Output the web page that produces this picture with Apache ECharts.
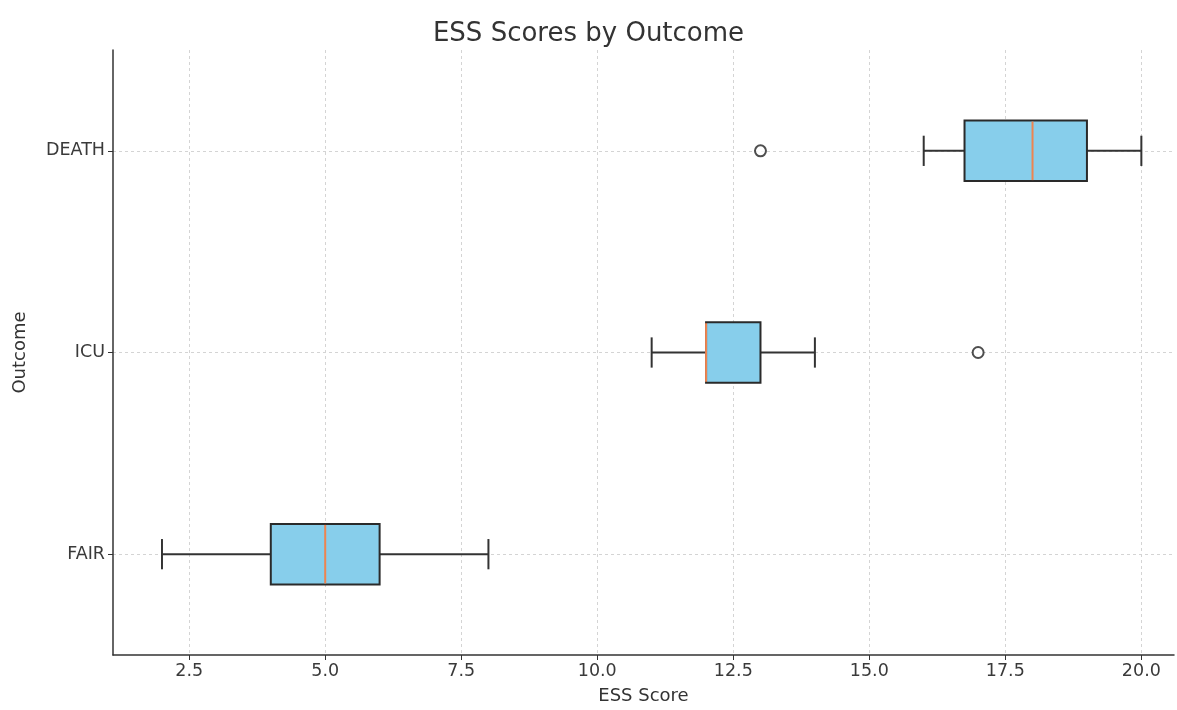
<!DOCTYPE html>
<html>
<head>
<meta charset="utf-8">
<script src="https://cdn.jsdelivr.net/npm/echarts@6/dist/echarts.min.js"></script>
<style>
html,body{margin:0;padding:0;background:#fff;}
#chart{width:1177px;height:710px;}
</style>
</head>
<body>
<div id="chart"></div>
<script>
// Data
var categories = ['FAIR', 'ICU', 'DEATH'];
// [whiskerLow, Q1, median, Q3, whiskerHigh]
var boxFAIR = [2, 4, 5, 6, 8];
var boxICU = [11, 12, 12, 13, 14];
var boxDEATH = [16, 16.75, 18, 19, 20];
var outliers = [[17, 'ICU'], [13, 'DEATH']];
var xTicks = [2.5, 5.0, 7.5, 10.0, 12.5, 15.0, 17.5, 20.0];

var boxes = [boxFAIR, boxICU, boxDEATH];
var boxData = boxes.map(function (b, i) { return [i].concat(b); });

var FONT = 'DejaVu Sans';
var chart = echarts.init(document.getElementById('chart'));

function renderBox(params, api) {
  var ci = api.value(0);
  var lo = api.coord([api.value(1), ci]);
  var q1 = api.coord([api.value(2), ci]);
  var md = api.coord([api.value(3), ci]);
  var q3 = api.coord([api.value(4), ci]);
  var hi = api.coord([api.value(5), ci]);
  var band = api.size([0, 1])[1];
  var bh = band * 0.3;
  var ch = band * 0.15;
  var y = lo[1];
  var lineStyle = { stroke: '#333333', lineWidth: 2 };
  return {
    type: 'group',
    children: [
      { type: 'line', shape: { x1: lo[0], y1: y, x2: q1[0], y2: y }, style: lineStyle },
      { type: 'line', shape: { x1: q3[0], y1: y, x2: hi[0], y2: y }, style: lineStyle },
      { type: 'line', shape: { x1: lo[0], y1: y - ch / 2, x2: lo[0], y2: y + ch / 2 }, style: lineStyle },
      { type: 'line', shape: { x1: hi[0], y1: y - ch / 2, x2: hi[0], y2: y + ch / 2 }, style: lineStyle },
      { type: 'rect', shape: { x: q1[0], y: y - bh / 2, width: q3[0] - q1[0], height: bh },
        style: { fill: '#87ceeb', stroke: '#2a2a2a', lineWidth: 2 } },
      { type: 'line', shape: { x1: md[0], y1: y - bh / 2 + 1, x2: md[0], y2: y + bh / 2 - 1 },
        style: { stroke: '#ee8450', lineWidth: 2 } }
    ]
  };
}

chart.setOption({
  animation: false,
  backgroundColor: '#ffffff',
  title: {
    text: 'ESS Scores by Outcome',
    left: 'center',
    top: 16,
    textStyle: { fontFamily: FONT, fontSize: 26, fontWeight: 'normal', color: '#333333' }
  },
  grid: { left: 113, right: 3, top: 50, bottom: 50, containLabel: false },
  xAxis: {
    type: 'value',
    min: 1.1,
    max: 20.6,
    name: 'ESS Score',
    nameLocation: 'middle',
    nameGap: 32,
    nameTextStyle: { fontFamily: FONT, fontSize: 18, color: '#333333' },
    axisLine: { show: true, lineStyle: { color: '#333333', width: 1.5 } },
    axisTick: { show: true, length: 5, customValues: xTicks, lineStyle: { color: '#333333' } },
    axisLabel: {
      customValues: xTicks,
      fontFamily: FONT, fontSize: 17.5, color: '#3a3a3a', margin: 7,
      formatter: function (v) { return v.toFixed(1); }
    },
    splitLine: { show: true, lineStyle: { color: '#d4d4d4', type: [3, 3], width: 1 } }
  },
  yAxis: {
    type: 'category',
    data: categories,
    name: 'Outcome',
    nameLocation: 'middle',
    nameGap: 84,
    nameTextStyle: { fontFamily: FONT, fontSize: 18, color: '#333333' },
    axisLine: { show: true, lineStyle: { color: '#333333', width: 1.5 } },
    axisTick: { show: true, length: 5, alignWithLabel: true, lineStyle: { color: '#333333' } },
    axisLabel: { fontFamily: FONT, fontSize: 17.5, color: '#3a3a3a', margin: 8 },
    splitLine: { show: true, alignWithLabel: true, lineStyle: { color: '#d4d4d4', type: [3, 3], width: 1 } }
  },
  series: [
    {
      type: 'custom',
      renderItem: renderBox,
      data: boxData,
      encode: { x: [1, 2, 3, 4, 5], y: 0 },
      z: 5
    },
    {
      type: 'scatter',
      data: outliers,
      symbol: 'circle',
      symbolSize: 11,
      itemStyle: { color: '#ffffff', borderColor: '#222222', borderWidth: 2 },
      z: 6
    }
  ]
});
</script>
</body>
</html>
